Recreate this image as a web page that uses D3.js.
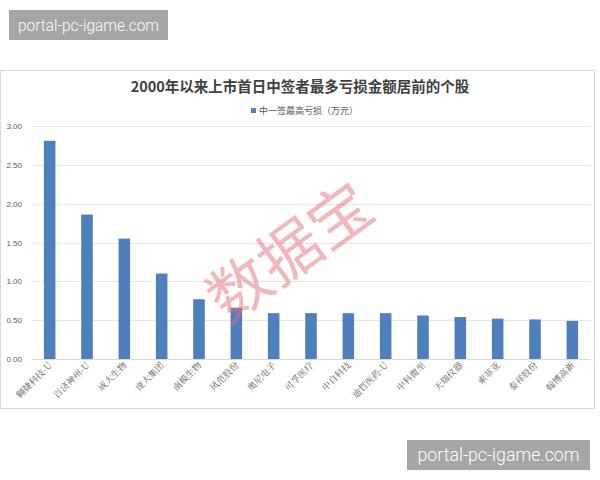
<!DOCTYPE html>
<html><head><meta charset="utf-8">
<script src="https://cdn.jsdelivr.net/npm/d3@7"></script>
<style>body{margin:0;background:#fff;}svg{display:block;}</style>
</head><body>
<svg id="c" width="600" height="480"></svg>
<script>
const categories = ["翱捷科技-U","百济神州-U","成大生物","庞大集团","南模生物","风范股份","奥尼电子","可孚医疗","中自科技","迪哲医药-U","中科微至","天瑞仪器","索菲亚","泰祥股份","翰博高新"];
const values = [2.81,1.86,1.55,1.10,0.77,0.66,0.59,0.59,0.59,0.59,0.56,0.54,0.52,0.51,0.49];
const yTicks = [0,0.5,1,1.5,2,2.5,3];
const title = "2000年以来上市首日中签者最多亏损金额居前的个股";
const seriesName = "中一签最高亏损（万元）";
const watermark = "数据宝";
const siteMark = "portal-pc-igame.com";

const svg = d3.select("#c");
// chart frame
svg.append("rect").attr("x",0.5).attr("y",70.5).attr("width",594).attr("height",338)
  .attr("fill","#fff").attr("stroke","#d9d9d9");

const x = d3.scaleBand().domain(categories).range([31,591]).paddingInner(0.69).paddingOuter(0.345);
const y = d3.scaleLinear().domain([0,3]).range([359,126]);

// gridlines
svg.append("g").selectAll("line").data(yTicks).join("line")
  .attr("x1",32).attr("x2",591).attr("y1",d=>Math.round(y(d))+0.5).attr("y2",d=>Math.round(y(d))+0.5)
  .attr("stroke",d=>d===0?"#d9d9d9":"#e6e6e6").attr("stroke-width",1);

// y labels
svg.append("g").selectAll("text").data(yTicks).join("text")
  .attr("x",22).attr("y",d=>y(d)+3).attr("text-anchor","end")
  .attr("font-family","Liberation Sans, Arial, sans-serif").attr("font-size",8)
  .attr("fill","#595959").text(d=>d3.format(".2f")(d));

// bars
svg.append("g").selectAll("rect").data(values).join("rect")
  .attr("x",(d,i)=>x(categories[i])).attr("width",x.bandwidth())
  .attr("y",d=>y(d)).attr("height",d=>y(0)-y(d))
  .attr("fill","#4f7fbd");

// x labels
svg.append("g").selectAll("text").data(categories).join("text")
  .attr("transform",d=>`translate(${x(d)+x.bandwidth()/2+3},${366}) rotate(-45)`)
  .attr("text-anchor","end")
  .attr("font-family","Noto Serif CJK SC, Noto Sans CJK SC, serif").attr("font-size",9)
  .attr("fill","#595959").text(d=>d);

// title
svg.append("text").attr("x",300).attr("y",92).attr("text-anchor","middle")
  .attr("font-family","Noto Sans CJK SC, sans-serif").attr("font-size",14.5).attr("font-weight","bold")
  .attr("fill","#404040").text(title);

// legend
svg.append("rect").attr("x",251).attr("y",108).attr("width",5).attr("height",5).attr("fill","#4f7fbd");
svg.append("text").attr("x",259).attr("y",114).attr("font-family","Noto Sans CJK SC, sans-serif")
  .attr("font-size",9).attr("fill","#595959").text(seriesName);

// watermark
svg.append("text").attr("transform","translate(303,270) rotate(-36)").attr("text-anchor","middle")
  .attr("font-family","Noto Sans CJK SC, sans-serif").attr("font-size",62).attr("font-weight",400)
  .attr("fill","rgba(232,110,120,0.5)").text(watermark);

// site marks
function siteBox(x0,y0,w,h,fs,tw){
  svg.append("rect").attr("x",x0).attr("y",y0).attr("width",w).attr("height",h).attr("fill","#a6a6a6");
  svg.append("text").attr("x",x0+w/2).attr("y",y0+h/2+fs*0.36).attr("text-anchor","middle")
    .attr("textLength",tw).attr("lengthAdjust","spacingAndGlyphs")
    .attr("font-family","Roboto, sans-serif").attr("font-weight",300).attr("font-size",fs).attr("fill","#fff").text(siteMark);
}
siteBox(9,10,159,30,16,141);
siteBox(407,440,183,30,18,162);
</script>
</body></html>
